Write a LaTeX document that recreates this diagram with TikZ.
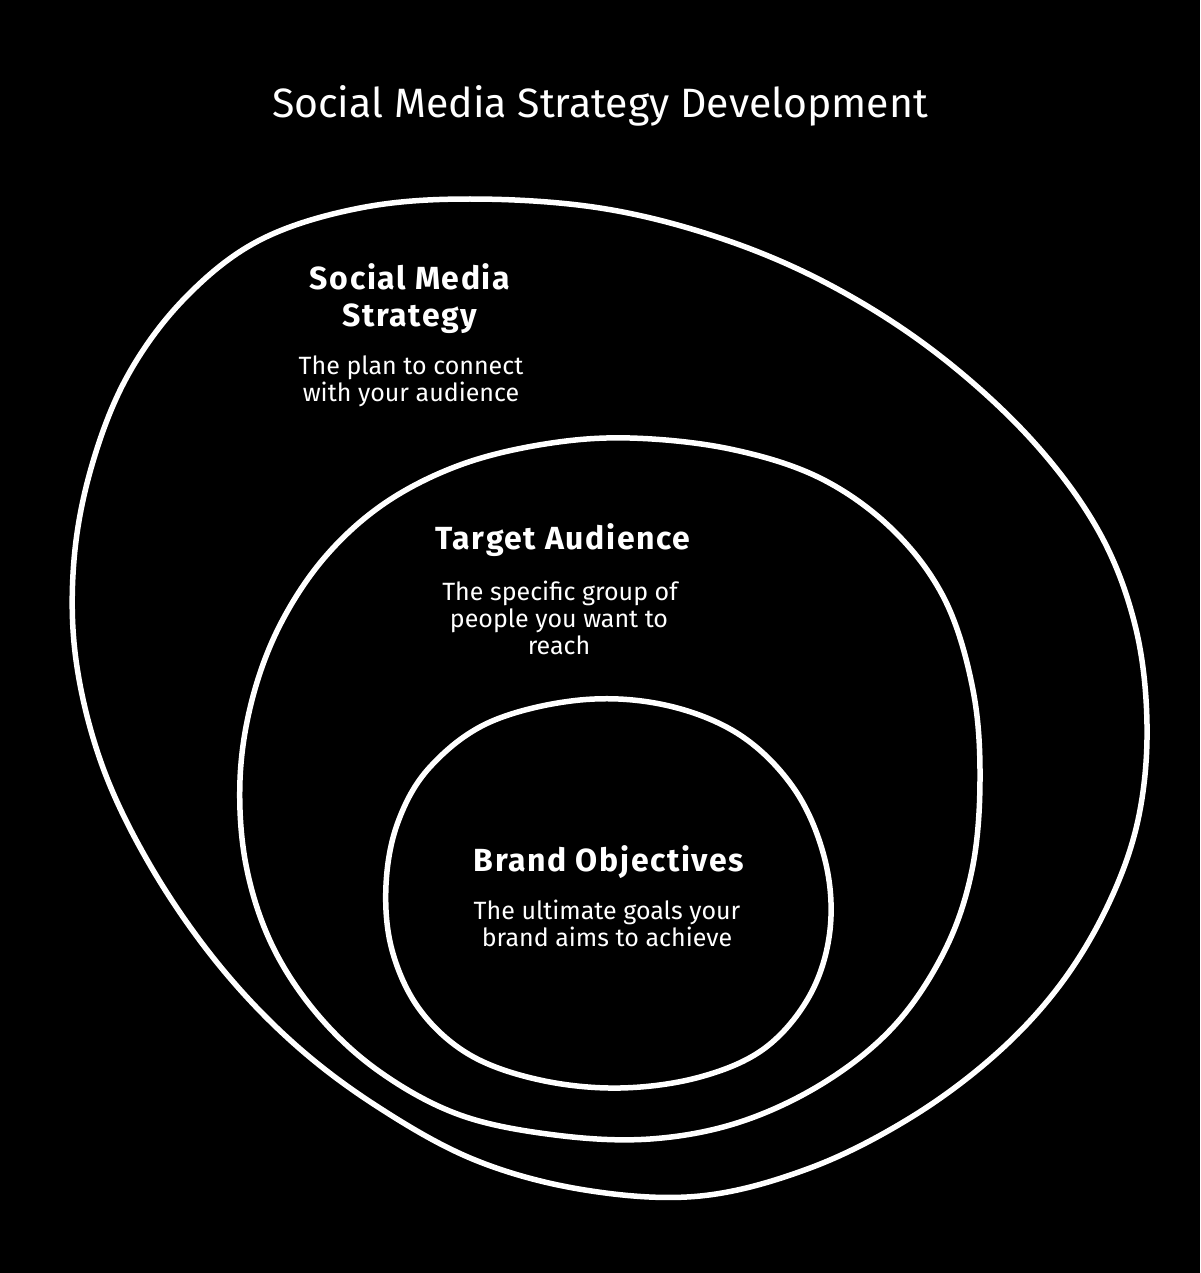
\documentclass[tikz,border=0pt]{standalone}
\usepackage{fontspec}
\setmainfont{Fira Sans}
\begin{document}
\begin{tikzpicture}[x=1pt,y=-1pt,
  ring/.style={draw=white,line width=5.5pt,line join=round},
  heading/.style={text=white,font=\fontsize{32}{36}\selectfont\bfseries\addfontfeatures{LetterSpace=5},anchor=base,inner sep=0pt},
  body/.style={text=white,font=\fontsize{25}{29}\selectfont,anchor=base,inner sep=0pt},
  titlestyle/.style={text=white,font=\fontsize{41}{46}\selectfont,anchor=base,inner sep=0pt}]
\fill[black] (0,0) rectangle (1200,1273);
\useasboundingbox (0,0) rectangle (1200,1273);
% outer ring
\draw[ring] plot[smooth cycle,tension=0.6] coordinates {
 (470,199) (600,208) (720,238) (830,285) (935,352) (1030,438) (1098,530)
 (1135,625) (1147,725) (1138,820) (1108,905) (1060,985) (995,1055)
 (910,1118) (810,1168) (700,1196) (585,1190) (475,1160) (375,1105)
 (290,1040) (215,960) (150,865) (102,765) (76,660) (74,560) (92,465)
 (128,375) (185,298) (260,240) (360,208)};
% middle ring
\draw[ring] plot[smooth cycle,tension=0.6] coordinates {
 (630,438) (730,449) (820,478) (893,530) (945,600) (973,690) (980,780)
 (972,870) (945,950) (895,1025) (825,1082) (740,1122) (650,1139)
 (555,1135) (460,1115) (380,1072) (318,1015) (272,945) (246,865)
 (240,780) (252,700) (280,625) (325,557) (385,503) (460,465) (545,444)};
% inner ring
\draw[ring] plot[smooth cycle,tension=0.6] coordinates {
 (580,700) (665,705) (740,735) (795,790) (825,860) (830,930) (810,995)
 (765,1048) (700,1077) (620,1088) (540,1080) (470,1055) (420,1010)
 (392,950) (386,885) (398,822) (430,767) (490,722)};
% texts
\node[titlestyle] (title) at (600,118) {Social Media Strategy Development};
\node[heading] (sms1) at (410,289) {Social Media};
\node[heading] (sms2) at (410,326) {Strategy};
\node[body] (smsd1) at (411,374) {The plan to connect};
\node[body] (smsd2) at (411,401) {with your audience};
\node[heading] (ta) at (563,549) {Target Audience};
\node[body] (tad1) at (560,600) {The specific group of};
\node[body] (tad2) at (559,627) {people you want to};
\node[body] (tad3) at (559,654) {reach};
\node[heading] (bo) at (609,871) {Brand Objectives};
\node[body] (bod1) at (607,919) {The ultimate goals your};
\node[body] (bod2) at (607,946) {brand aims to achieve};
\end{tikzpicture}
\end{document}
